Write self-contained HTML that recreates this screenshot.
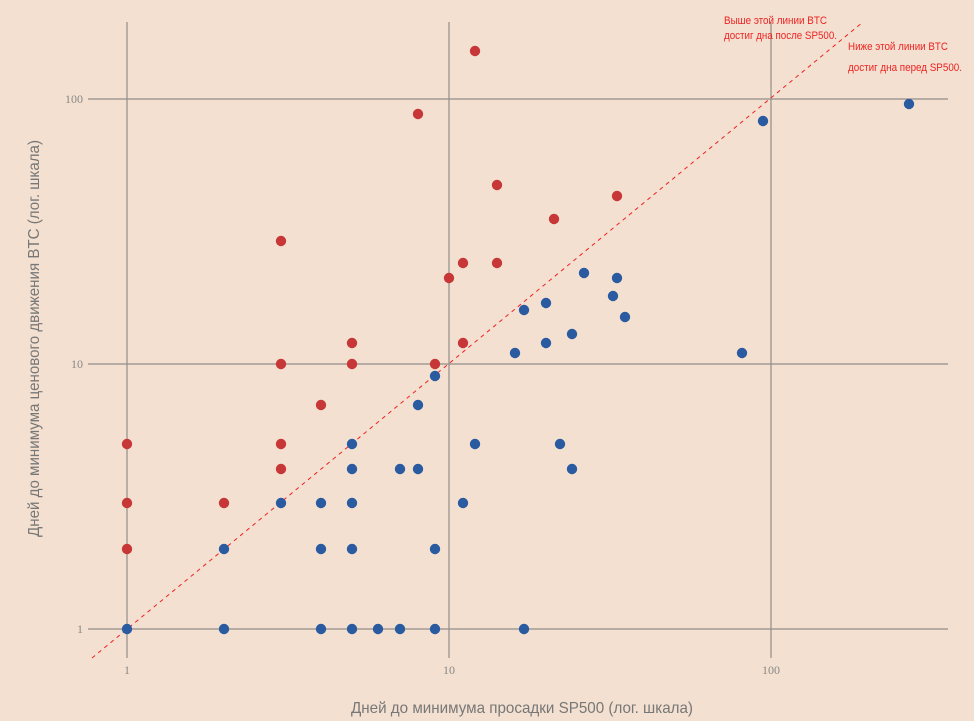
<!DOCTYPE html>
<html><head><meta charset="utf-8"><style>
html,body{margin:0;padding:0;background:#f3e0d0;}
svg{display:block;font-family:"Liberation Sans",sans-serif;}
</style></head><body>
<svg width="974" height="721" xmlns="http://www.w3.org/2000/svg">
<rect width="974" height="721" fill="#f3e0d0"/>
<g stroke="#938d89" stroke-width="1.2">
<line x1="127" y1="22" x2="127" y2="658"/>
<line x1="449" y1="22" x2="449" y2="658"/>
<line x1="771" y1="22" x2="771" y2="658"/>
<line x1="88" y1="99" x2="948" y2="99"/>
<line x1="88" y1="364" x2="948" y2="364"/>
<line x1="88" y1="629" x2="948" y2="629"/>
</g>
<g font-family="Liberation Serif,serif" font-size="12" fill="#888">
<text x="127" y="674" text-anchor="middle">1</text>
<text x="449" y="674" text-anchor="middle">10</text>
<text x="771" y="674" text-anchor="middle">100</text>
<text x="83" y="633" text-anchor="end">1</text>
<text x="83" y="368" text-anchor="end">10</text>
<text x="83" y="103" text-anchor="end">100</text>
</g>
<line x1="92" y1="658" x2="863" y2="22" stroke="#ee2222" stroke-width="1" stroke-dasharray="4,4"/>
<g fill="#c83737">
<circle cx="127" cy="444" r="5.2"/><circle cx="127" cy="503" r="5.2"/><circle cx="127" cy="549" r="5.2"/>
<circle cx="224" cy="503" r="5.2"/><circle cx="281" cy="241" r="5.2"/><circle cx="281" cy="364" r="5.2"/>
<circle cx="281" cy="444" r="5.2"/><circle cx="281" cy="469" r="5.2"/><circle cx="321" cy="405" r="5.2"/>
<circle cx="352" cy="343" r="5.2"/><circle cx="352" cy="364" r="5.2"/><circle cx="418" cy="114" r="5.2"/>
<circle cx="435" cy="364" r="5.2"/><circle cx="449" cy="278" r="5.2"/><circle cx="463" cy="263" r="5.2"/>
<circle cx="463" cy="343" r="5.2"/><circle cx="475" cy="51" r="5.2"/><circle cx="497" cy="185" r="5.2"/>
<circle cx="497" cy="263" r="5.2"/><circle cx="554" cy="219" r="5.2"/><circle cx="617" cy="196" r="5.2"/>
</g>
<g fill="#2a5aa0">
<circle cx="127" cy="629" r="5.2"/><circle cx="224" cy="549" r="5.2"/><circle cx="224" cy="629" r="5.2"/>
<circle cx="281" cy="503" r="5.2"/><circle cx="321" cy="503" r="5.2"/><circle cx="321" cy="549" r="5.2"/>
<circle cx="321" cy="629" r="5.2"/><circle cx="352" cy="444" r="5.2"/><circle cx="352" cy="469" r="5.2"/>
<circle cx="352" cy="503" r="5.2"/><circle cx="352" cy="549" r="5.2"/><circle cx="352" cy="629" r="5.2"/>
<circle cx="378" cy="629" r="5.2"/><circle cx="400" cy="469" r="5.2"/><circle cx="400" cy="629" r="5.2"/>
<circle cx="418" cy="405" r="5.2"/><circle cx="418" cy="469" r="5.2"/><circle cx="435" cy="376" r="5.2"/>
<circle cx="435" cy="549" r="5.2"/><circle cx="435" cy="629" r="5.2"/><circle cx="463" cy="503" r="5.2"/>
<circle cx="475" cy="444" r="5.2"/><circle cx="515" cy="353" r="5.2"/><circle cx="524" cy="310" r="5.2"/>
<circle cx="524" cy="629" r="5.2"/><circle cx="546" cy="303" r="5.2"/><circle cx="546" cy="343" r="5.2"/>
<circle cx="560" cy="444" r="5.2"/><circle cx="572" cy="334" r="5.2"/><circle cx="572" cy="469" r="5.2"/>
<circle cx="584" cy="273" r="5.2"/><circle cx="613" cy="296" r="5.2"/><circle cx="617" cy="278" r="5.2"/>
<circle cx="625" cy="317" r="5.2"/><circle cx="742" cy="353" r="5.2"/><circle cx="763" cy="121" r="5.2"/>
<circle cx="909" cy="104" r="5.2"/>
</g>
<g fill="#ee2222" font-size="11">
<text x="724" y="24" textLength="103" lengthAdjust="spacingAndGlyphs">Выше этой линии BTC</text>
<text x="724" y="39" textLength="113" lengthAdjust="spacingAndGlyphs">достиг дна после SP500.</text>
<text x="848" y="50" textLength="100" lengthAdjust="spacingAndGlyphs">Ниже этой линии BTC</text>
<text x="848" y="71" textLength="114" lengthAdjust="spacingAndGlyphs">достиг дна перед SP500.</text>
</g>
<text x="351" y="713" font-size="16" fill="#777" textLength="342" lengthAdjust="spacingAndGlyphs">Дней до минимума просадки SP500 (лог. шкала)</text>
<text transform="translate(39,537) rotate(-90)" font-size="16" fill="#777" textLength="397" lengthAdjust="spacingAndGlyphs">Дней до минимума ценового движения BTC (лог. шкала)</text>
</svg>
</body></html>
